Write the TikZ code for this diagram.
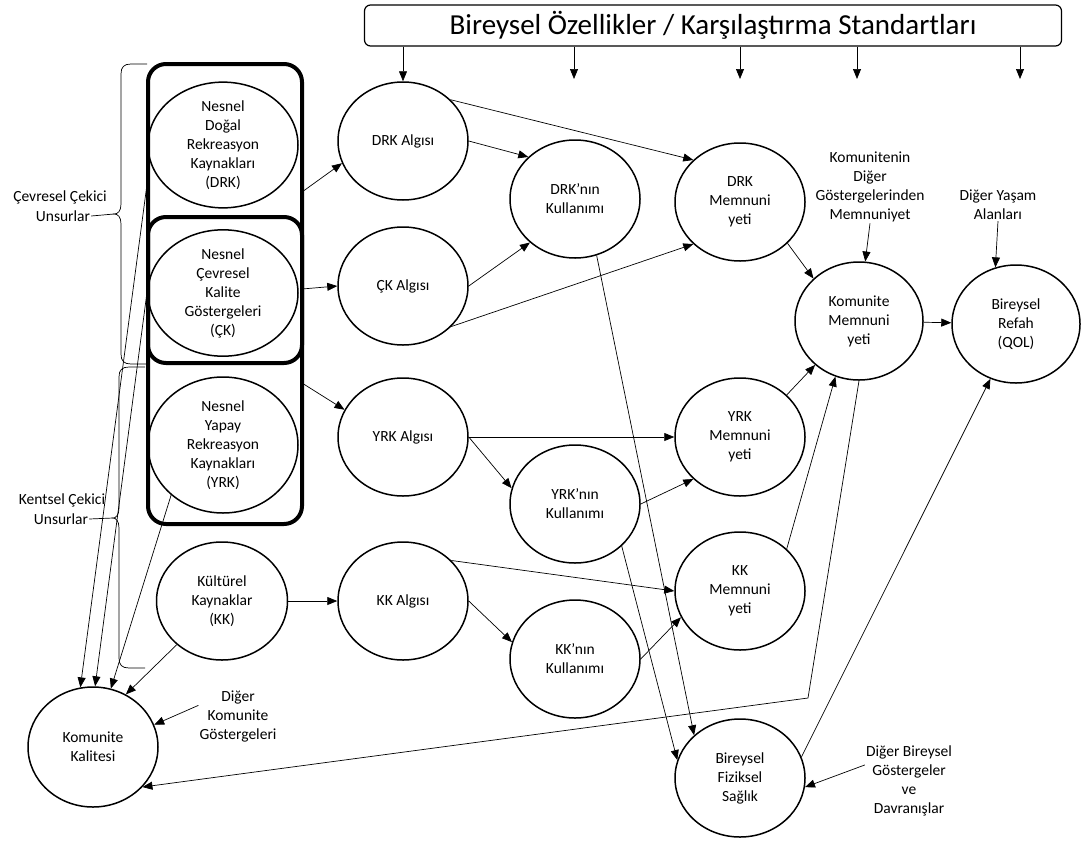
\documentclass[tikz,border=0pt]{standalone}
\usepackage{fontspec}
\setmainfont{Carlito}
\usetikzlibrary{positioning,arrows.meta,shapes.geometric}

\begin{document}
\begin{tikzpicture}[x=1pt,y=-1pt,
    circ/.style={ellipse,draw,line width=1.5pt,minimum width=130pt,minimum height=118pt,inner sep=0pt,align=center,font=\fontsize{15.5}{19}\selectfont},
    lbl/.style={align=center,inner sep=1pt,font=\fontsize{15.5}{19}\selectfont},
    bigbox/.style={draw,line width=4pt,rounded corners=18pt,minimum width=154pt},
    arr/.style={-{Triangle[length=10pt,width=8pt]},line width=0.7pt},
    lin/.style={line width=0.7pt}]
    \useasboundingbox (0,0) rectangle (1081,841);

    % Standartlar
    \node[draw,rounded corners=6pt,line width=1.2pt,minimum width=697pt,minimum height=41pt,font=\fontsize{29}{30}\selectfont] (ozel) at (713,25.5) {Bireysel Özellikler / Karşılaştırma Standartları};

    % Nesnel kaynaklar
    \node[bigbox,minimum height=460pt] (nesnel) at (225,294) {};
    \node[bigbox,minimum height=146pt] (ckbox) at (225,290) {};
    \node[circ,minimum width=150pt,minimum height=125pt] (drkk) at (223,145) {Nesnel\\Doğal\\Rekreasyon\\Kaynakları\\(DRK)};
    \node[circ,minimum width=150pt,minimum height=123pt] (ckk) at (223,293) {Nesnel\\Çevresel\\Kalite\\Göstergeleri\\(ÇK)};
    \node[circ,minimum width=150pt,minimum height=136pt] (yrkk) at (223,445) {Nesnel\\Yapay\\Rekreasyon\\Kaynakları\\(YRK)};
    \node[circ,minimum width=131pt] (kk) at (222,601) {Kültürel\\Kaynaklar\\(KK)};
    \node[circ,minimum height=120pt] (kalite) at (93,747) {Komunite\\Kalitesi};

    % Algi, kullanim, memnuniyet
    \node[circ] (drkal) at (403,141) {DRK Algısı};
    \node[circ] (ckal) at (403,286) {ÇK Algısı};
    \node[circ] (yrkal) at (403,437) {YRK Algısı};
    \node[circ] (kkal) at (403,601) {KK Algısı};
    \node[circ] (drkkul) at (575,199) {DRK’nın\\Kullanımı};
    \node[circ] (yrkkul) at (575,504) {YRK’nın\\Kullanımı};
    \node[circ] (kkkul) at (575,659) {KK’nın\\Kullanımı};
    \node[circ] (drkmem) at (740,202) {DRK\\Memnuni\\yeti};
    \node[circ] (yrkmem) at (740,437) {YRK\\Memnuni\\yeti};
    \node[circ] (kkmem) at (740,591) {KK\\Memnuni\\yeti};
    \node[circ,minimum width=128pt] (kommem) at (859,321) {Komunite\\Memnuni\\yeti};
    \node[circ,minimum width=128pt] (refah) at (1016,324) {Bireysel\\Refah\\(QOL)};
    \node[circ] (fiz) at (740,778) {Bireysel\\Fiziksel\\Sağlık};

    % Etiketler
    \node[lbl] (digmem) at (870,187) {Komunitenin\\Diğer\\Göstergelerinden\\Memnuniyet};
    \node[lbl] (digyas) at (998,205) {Diğer Yaşam\\Alanları};
    \node[lbl] (digkom) at (238,716) {Diğer\\Komunite\\Göstergeleri};
    \node[lbl] (digbir) at (909,781) {Diğer Bireysel\\Göstergeler\\ve\\Davranışlar};
    \node[lbl] (cev1) at (60,197) {Çevresel Çekici};
    \node[lbl] (cev2) at (63,216) {Unsurlar};
    \node[lbl] (ken1) at (62,500) {Kentsel Çekici};
    \node[lbl] (ken2) at (61,519) {Unsurlar};

    % Parantezler
    \coordinate (cevtip) at (114,214);
    \coordinate (kentip) at (113,518);
    \draw[lin] (147,64) -- (131,64) .. controls (124,64) and (121,67) .. (121,74) -- (121,204)
        .. controls (121,211) and (118,214) .. (cevtip) .. controls (118,214) and (121,217) .. (121,224)
        -- (121,354) .. controls (121,361) and (124,364) .. (131,364) -- (147,364);
    \draw[lin] (145,367) -- (129,367) .. controls (122,367) and (119,370) .. (119,377) -- (119,508)
        .. controls (119,515) and (116,518) .. (kentip) .. controls (116,518) and (119,521) .. (119,528)
        -- (119,658) .. controls (119,665) and (122,668) .. (129,668) -- (145,668);
    \draw[lin] (cev2.east) -- (cevtip);
    \draw[lin] (ken2.east) -- (kentip);

    % Standartlardan oklar
    \coordinate (s2) at (574,79);
    \coordinate (s3) at (740,79);
    \coordinate (s4) at (857,79);
    \coordinate (s5) at (1020,79);
    \draw[arr] (drkal.north |- ozel.south) -- (drkal.north);
    \draw[arr] (s2 |- ozel.south) -- (s2);
    \draw[arr] (s3 |- ozel.south) -- (s3);
    \draw[arr] (s4 |- ozel.south) -- (s4);
    \draw[arr] (s5 |- ozel.south) -- (s5);

    % Kaynaklardan algiya
    \coordinate (b1) at (302,192);
    \coordinate (b2) at (302,289);
    \coordinate (b3) at (302,383);
    \draw[arr] (b1) -- (drkal.200);
    \draw[arr] (b2) -- (ckal.west);
    \draw[arr] (b3) -- (yrkal.155);
    \draw[arr] (kk) -- (kkal);

    % Algidan kullanim ve memnuniyete
    \draw[arr] (drkal.east) -- (drkkul.138);
    \draw[arr] (drkal.41) -- (drkmem.138);
    \draw[arr] (ckal.east) -- (drkkul.224);
    \draw[arr] (ckal.-40) -- (drkmem.222);
    \draw[arr] (yrkal) -- (yrkmem);
    \draw[arr] (yrkal.east) -- (yrkkul.166);
    \draw[arr] (yrkkul.east) -- (yrkmem.222);
    \draw[arr] (kkal.40) -- (kkmem.west);
    \draw[arr] (kkal.east) -- (kkkul.165);
    \draw[arr] (kkkul.east) -- (kkmem.204);

    % Memnuniyet
    \draw[arr] (drkmem.-41) -- (kommem.137);
    \draw[arr] (yrkmem.42) -- (kommem.225);
    \draw[arr] (kkmem.42) -- (kommem.247);
    \draw[arr] (kommem) -- (refah);
    \draw[arr] (digmem.south) -- (kommem.84);
    \draw[arr] (digyas.south) -- (refah.110);

    % Saglik
    \draw[arr] (drkkul.-69) -- (fiz.137);
    \draw[arr] (yrkkul.-42) -- (fiz.164);
    \draw[arr] (fiz.19) -- (refah.245);
    \draw[arr] (digbir.160) -- (fiz.-8);

    % Komunite kalitesi
    \coordinate (kose) at (808,698);
    \draw[arr] (kommem.south) -- (kose) -- (kalite.-39);
    \draw[arr] (drkk.193) -- (kalite.102);
    \draw[arr] (ckk.172) -- (kalite.88);
    \draw[arr] (yrkk.224) -- (kalite.73);
    \draw[arr] (kk.224) -- (kalite.58);
    \draw[arr] (digkom.165) -- (kalite.20);
\end{tikzpicture}
\end{document}
